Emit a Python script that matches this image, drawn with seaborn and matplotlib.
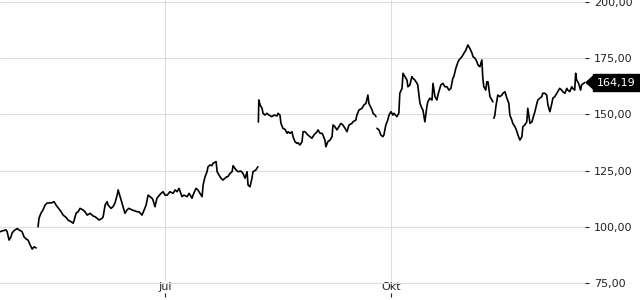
import matplotlib
matplotlib.use("Agg")
import matplotlib.pyplot as plt
import matplotlib.transforms as mtransforms
from matplotlib.patches import Polygon
from matplotlib.ticker import FuncFormatter
import seaborn as sns
import pandas as pd

# ---- data (days relative to 1 July, price) ----
base_date = "2020-07-01"

seg1_days = [-67.2, -65.9, -64.7, -64.3, -63.5, -62.7, -62.3, -61.5, -60.2, -59.4, -58.2, -57.4,
             -56.6, -55.8, -54.9, -54.1, -53.3, -52.5]
seg1_prices = [97.8, 98.3, 98.6, 97.8, 94.1, 95.6, 97.2, 98.3, 99.2, 98.6, 97.8, 95.5,
               94.6, 94.1, 91.9, 90.1, 91.1, 90.6]

seg2_days = [-51.7, -51.3, -50.5, -49.7, -48.8, -48.0, -47.2, -46.0, -45.2, -44.4, -43.5, -42.3,
             -41.5, -40.3, -39.5, -38.3, -37.4, -37.0, -36.2, -35.4, -34.6, -33.4, -32.6, -31.7,
             -30.5, -29.3, -28.5, -27.7, -26.9, -25.6, -25.2, -24.4, -23.6, -23.2, -22.0, -21.2,
             -20.4, -19.5, -19.1, -18.3, -17.5, -17.1, -16.3, -15.5, -14.7, -13.4, -12.6, -11.4,
             -10.6, -9.4, -8.5, -7.7, -6.9, -6.1, -5.3, -4.9, -4.1, -3.3, -2.8, -1.6, -0.8, 0.0,
             0.9, 2.0, 3.3, 4.1, 4.9, 5.7, 6.9, 7.7, 9.0, 9.8, 11.0, 11.4, 12.6, 13.4, 14.2, 15.1,
             15.5, 16.3, 17.1, 17.5, 18.3, 19.1, 19.5, 20.8, 21.2, 22.0, 22.8, 23.6, 24.4, 25.2,
             25.6, 26.5, 27.3, 27.7, 28.9, 29.7, 30.9, 31.7, 32.6, 33.4, 33.8, 34.6, 35.4, 35.8,
             37.0, 37.8]
seg2_prices = [100.0, 103.9, 106.1, 107.5, 109.7, 110.6, 110.6, 110.7, 111.2, 109.7, 108.4, 106.7,
               105.2, 104.2, 103.0, 102.3, 101.6, 103.0, 106.1, 106.7, 108.2, 107.5, 106.7, 105.2,
               106.0, 104.8, 104.5, 103.8, 103.0, 103.8, 104.5, 109.7, 111.2, 109.7, 108.2, 108.9,
               110.5, 114.1, 116.4, 113.4, 110.5, 108.9, 106.0, 107.5, 108.2, 107.5, 107.2, 106.7,
               106.7, 105.2, 107.5, 109.7, 114.1, 113.4, 112.7, 111.9, 108.9, 112.7, 113.4, 114.9,
               115.6, 114.1, 114.1, 115.6, 114.9, 116.4, 115.6, 117.1, 113.4, 114.1, 113.4, 114.9,
               112.7, 114.1, 117.1, 116.4, 114.9, 113.4, 118.6, 122.3, 124.5, 126.7, 127.5, 127.2,
               128.2, 129.0, 124.5, 123.0, 121.6, 120.8, 121.6, 122.3, 122.3, 123.8, 124.5, 127.2,
               125.3, 124.5, 124.8, 123.8, 121.6, 124.5, 118.6, 117.8, 121.6, 124.5, 125.3, 126.7]

seg3_days = [38.0, 38.2, 38.7, 39.5, 39.9, 40.7, 41.5, 42.3, 43.5, 44.4, 45.6, 46.0, 46.8, 47.2,
             48.0, 48.8, 49.7, 50.1, 50.9, 51.7, 52.1, 52.9, 53.7, 54.1, 54.9, 55.8, 56.2, 57.0,
             58.2, 59.0, 59.8, 60.6, 61.9, 62.3, 63.1, 63.9, 64.3, 65.1, 65.5, 66.3, 67.2, 68.0,
             68.4, 69.2, 70.0, 70.4, 71.6, 72.4, 73.3, 74.1, 74.9, 76.1, 76.5, 77.7, 78.1, 79.0,
             80.2, 81.0, 81.8, 82.6, 83.0, 84.3, 84.7, 85.5, 85.9]
seg3_prices = [146.6, 156.4, 154.2, 152.7, 150.5, 149.7, 150.5, 149.7, 149.0, 149.7, 149.3, 150.5,
               149.7, 146.0, 143.8, 143.4, 141.6, 142.3, 141.6, 142.3, 140.1, 137.9, 137.1, 137.4,
               136.4, 137.9, 142.3, 142.3, 140.8, 140.1, 139.4, 140.8, 142.3, 143.1, 141.6, 141.6,
               140.8, 138.6, 135.6, 137.9, 138.6, 140.1, 145.3, 144.5, 143.1, 143.8, 146.0, 145.3,
               143.8, 142.3, 145.3, 146.0, 146.7, 147.5, 149.7, 152.0, 152.7, 154.2, 154.9, 158.6,
               154.9, 152.0, 150.5, 149.7, 149.0]

seg4_days = [86.3, 87.1, 87.9, 88.7, 89.1, 89.9, 90.7, 91.2, 92.0, 92.8, 93.2, 94.4, 95.2, 95.6,
             96.5, 96.9, 97.7, 98.5, 98.9, 99.7, 100.5, 100.9, 101.7, 102.6, 102.9, 103.8, 104.6,
             105.0, 105.8, 106.6, 107.0, 107.8, 108.7, 109.1, 109.9, 110.7, 111.1, 112.3, 113.1,
             114.0, 114.8, 115.6, 116.4, 117.2, 117.6, 118.4, 119.3, 119.7, 120.9, 121.7, 122.5,
             123.3, 124.1, 125.0, 125.4, 126.2, 127.0, 127.4, 128.2, 129.0, 129.4, 129.8, 130.6,
             131.0, 131.5, 132.3, 133.1, 133.5]
seg4_prices = [143.8, 143.1, 140.8, 140.1, 140.8, 145.3, 147.5, 149.7, 151.2, 149.7, 150.5, 149.0,
               150.5, 159.4, 161.6, 168.3, 166.8, 165.3, 162.3, 163.1, 166.8, 166.1, 165.3, 163.8,
               163.1, 154.9, 152.7, 152.0, 146.7, 153.4, 155.6, 157.2, 156.4, 163.8, 157.9, 156.4,
               158.6, 163.1, 163.8, 162.3, 162.3, 160.8, 161.6, 166.1, 166.8, 170.5, 173.4, 174.2,
               175.7, 177.2, 178.6, 180.9, 179.4, 177.2, 175.7, 175.0, 173.4, 172.0, 171.2, 174.2,
               166.1, 162.3, 160.8, 164.5, 164.5, 157.9, 156.4, 155.6]

seg5_days = [133.9, 134.3, 134.7, 135.5, 136.3, 137.2, 137.6, 138.4, 139.2, 140.0, 140.4, 141.2,
             141.6, 142.5, 143.3, 143.7, 144.5, 145.3, 145.7, 146.5, 147.3, 147.7, 148.6, 149.4,
             149.8, 150.6, 151.4, 151.8, 152.6, 153.4, 153.8, 154.6, 155.4, 155.9, 156.7, 157.5,
             157.9, 158.7, 159.5, 159.9, 160.7, 161.5, 161.9, 162.8, 163.6, 164.0, 164.8, 165.6,
             166.0, 166.8, 167.2, 167.6, 168.4, 169.2, 169.6, 170.4, 170.9]
seg5_prices = [148.3, 149.7, 153.4, 158.6, 157.9, 158.6, 159.4, 160.1, 157.2, 154.9, 149.7, 147.5,
               146.0, 144.5, 142.3, 140.8, 138.6, 140.1, 144.5, 145.3, 146.7, 152.7, 146.0, 146.7,
               148.3, 151.2, 154.9, 156.4, 157.2, 157.9, 159.4, 159.4, 158.6, 154.2, 151.2, 154.9,
               157.2, 157.9, 159.4, 160.1, 161.6, 160.8, 160.1, 159.4, 161.6, 160.8, 160.1, 162.3,
               161.6, 160.8, 168.3, 165.3, 163.8, 160.8, 163.1, 163.8, 164.19]

last_price = 164.19
y_ticks = [75, 100, 125, 150, 175, 200]
x_tick_dates = ["2020-07-01", "2020-10-01"]
x_tick_labels = ["Jul", "Okt"]

# ---- assemble ----
segments = [(seg1_days, seg1_prices), (seg2_days, seg2_prices), (seg3_days, seg3_prices),
            (seg4_days, seg4_prices), (seg5_days, seg5_prices)]
frames = []
for i, (d, p) in enumerate(segments):
    frames.append(pd.DataFrame({"date": pd.Timestamp(base_date) + pd.to_timedelta(d, unit="D"),
                                "price": p, "seg": i}))
df = pd.concat(frames, ignore_index=True)

sns.set_theme(style="white")
plt.rcParams["font.family"] = ["DejaVu Sans"]

fig = plt.figure(figsize=(6.4, 3.0), dpi=100)
ax = fig.add_axes([0.0, 0.01, 585 / 640, 0.99])

sns.lineplot(data=df, x="date", y="price", units="seg", estimator=None,
             color="black", linewidth=1.2, ax=ax, legend=False)

ax.set_ylim(68.77, 200.89)
ax.set_xlim(pd.Timestamp(base_date) + pd.Timedelta(days=-67.2),
            pd.Timestamp(base_date) + pd.Timedelta(days=171.0))

for s in ax.spines.values():
    s.set_visible(False)

ax.yaxis.tick_right()
ax.set_yticks(y_ticks)
ax.yaxis.set_major_formatter(FuncFormatter(lambda v, p: f"{v:.2f}".replace(".", ",")))
ax.tick_params(axis="y", which="major", direction="out", length=3, width=0.8,
               color="#222222", labelcolor="#222222", labelsize=8, pad=3.5, right=True, left=False)

ax.set_xticks(pd.to_datetime(x_tick_dates))
ax.set_xticklabels(x_tick_labels)
ax.tick_params(axis="x", which="major", direction="in", length=3, width=0.8,
               color="#222222", labelcolor="#222222", labelsize=8, pad=-10.8, bottom=True)
for lbl in ax.get_xticklabels():
    lbl.set_bbox(dict(facecolor="white", edgecolor="none", pad=0.5))

ax.set_xlabel("")
ax.set_ylabel("")
ax.grid(True, color="#dddddd", linewidth=0.8)
ax.set_axisbelow(True)

# price tag: black box with a left-pointing tip at the axes' right edge
trans = mtransforms.blended_transform_factory(ax.transAxes, ax.transData)
ax.text(1.0205, last_price, f"{last_price:.2f}".replace(".", ","), transform=trans,
        ha="left", va="center", fontsize=8, color="white", clip_on=False, zorder=5,
        bbox=dict(boxstyle="square,pad=0.35", fc="black", ec="black"))
fig.canvas.draw()
x_tip, y_mid = trans.transform((1.0, last_price))
half = 8.0
tip = Polygon([(x_tip, y_mid), (x_tip + 9, y_mid + half), (x_tip + 12, y_mid + half),
               (x_tip + 12, y_mid - half), (x_tip + 9, y_mid - half)],
              closed=True, transform=None, facecolor="black", edgecolor="none", zorder=4)
fig.patches.append(tip)

fig.savefig("out.png", dpi=100)
